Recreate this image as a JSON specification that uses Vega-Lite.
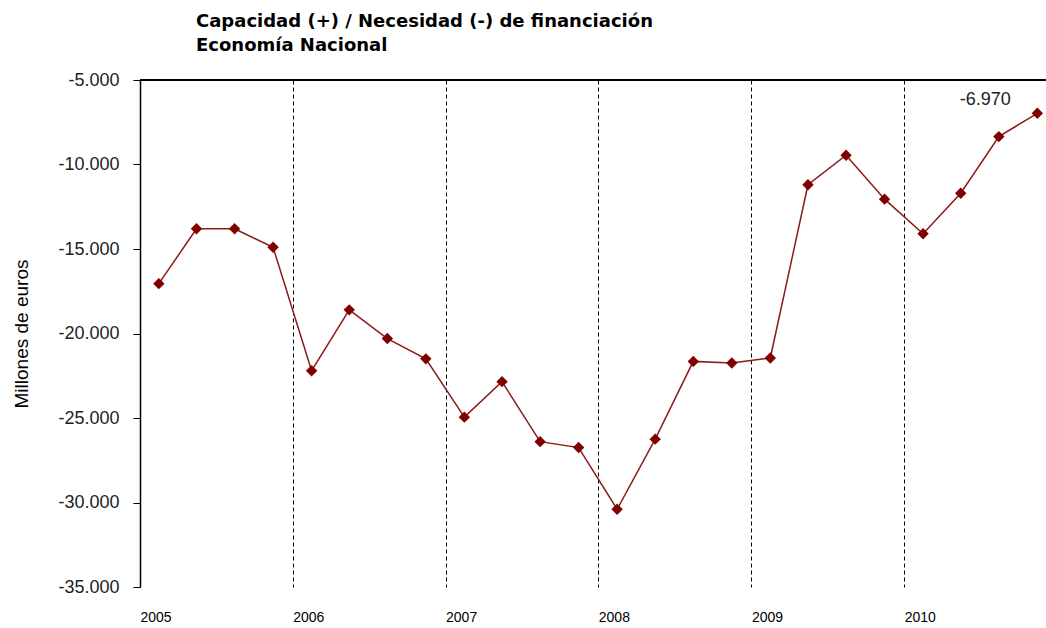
{
  "$schema": "https://vega.github.io/schema/vega-lite/v6.json",
  "autosize": "none",
  "width": 917,
  "height": 507,
  "padding": {"left": 140, "top": 80, "right": 0, "bottom": 41},
  "background": "white",
  "config": {"view": {"stroke": null}},
  "title": {
    "text": ["Capacidad (+) / Necesidad (-) de financiación", "Economía Nacional"],
    "anchor": "start",
    "frame": "group",
    "dx": 56,
    "offset": 16,
    "font": "DejaVu Sans",
    "fontSize": 18,
    "fontWeight": "bold",
    "color": "black",
    "lineHeight": 24
  },
  "data": {
    "values": [
      {"date": "2005-02-15", "v": -17050},
      {"date": "2005-05-16", "v": -13800},
      {"date": "2005-08-15", "v": -13800},
      {"date": "2005-11-15", "v": -14900},
      {"date": "2006-02-15", "v": -22200},
      {"date": "2006-05-16", "v": -18600},
      {"date": "2006-08-15", "v": -20300},
      {"date": "2006-11-15", "v": -21500},
      {"date": "2007-02-15", "v": -24950},
      {"date": "2007-05-16", "v": -22850},
      {"date": "2007-08-15", "v": -26400},
      {"date": "2007-11-15", "v": -26750},
      {"date": "2008-02-15", "v": -30400},
      {"date": "2008-05-16", "v": -26250},
      {"date": "2008-08-15", "v": -21650},
      {"date": "2008-11-15", "v": -21750},
      {"date": "2009-02-15", "v": -21450},
      {"date": "2009-05-16", "v": -11200},
      {"date": "2009-08-15", "v": -9450},
      {"date": "2009-11-15", "v": -12050},
      {"date": "2010-02-15", "v": -14100},
      {"date": "2010-05-16", "v": -11700},
      {"date": "2010-08-15", "v": -8350},
      {"date": "2010-11-15", "v": -6970}
    ]
  },
  "encoding": {
    "x": {
      "field": "date",
      "type": "temporal",
      "scale": {"domain": ["2005-01-01T00:00:00", "2011-01-01T00:00:00"]},
      "axis": {
        "title": null,
        "values": ["2005-01-01T00:00:00", "2006-01-01T00:00:00", "2007-01-01T00:00:00", "2008-01-01T00:00:00", "2009-01-01T00:00:00", "2010-01-01T00:00:00"],
        "format": "%Y",
        "labelAlign": "left",
        "labelBaseline": "top",
        "labelPadding": 23,
        "labelFont": "Liberation Sans",
        "labelFontSize": 14,
        "labelColor": "black",
        "ticks": false,
        "domain": false,
        "grid": true,
        "gridDash": [4, 3],
        "gridColor": "black",
        "gridOpacity": 1,
        "gridWidth": 1
      }
    },
    "y": {
      "field": "v",
      "type": "quantitative",
      "scale": {"domain": [-35000, -5000], "nice": false, "zero": false},
      "axis": {
        "title": "Millones de euros",
        "titleFont": "Liberation Sans",
        "titleFontSize": 19,
        "titleFontWeight": "normal",
        "titleColor": "black",
        "titlePadding": 26,
        "values": [-35000, -30000, -25000, -20000, -15000, -10000, -5000],
        "labelExpr": "replace(replace(format(-datum.value, ','), ',', '.'), '', '-')",
        "labelFont": "Liberation Sans",
        "labelFontSize": 18,
        "labelColor": "#222222",
        "labelPadding": 14,
        "tickSize": 7,
        "tickColor": "black",
        "domainColor": "black",
        "domainWidth": 1.5,
        "grid": false
      }
    }
  },
  "layer": [
    {
      "mark": {"type": "rule", "color": "black", "strokeWidth": 1.5},
      "encoding": {"y": {"datum": -5000}, "x": null}
    },
    {
      "mark": {"type": "line", "color": "#8b1a1a", "strokeWidth": 1.5}
    },
    {
      "mark": {"type": "point", "shape": "diamond", "filled": true, "color": "#800000", "size": 130, "opacity": 1}
    },
    {
      "transform": [{"filter": "datum.v == -6970"}],
      "mark": {"type": "text", "dx": -52, "dy": -13, "font": "Liberation Sans", "fontSize": 18, "color": "#222222", "align": "center"},
      "encoding": {"text": {"value": "-6.970"}}
    }
  ]
}
